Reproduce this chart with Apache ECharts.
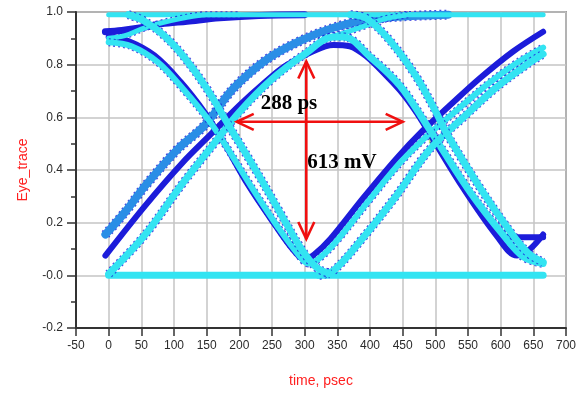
<!DOCTYPE html>
<html>
<head>
<meta charset="utf-8">
<title>Eye diagram</title>
<script src="https://cdn.jsdelivr.net/npm/echarts@6/dist/echarts.min.js"></script>
<style>
  html, body { margin: 0; padding: 0; background: #fff; }
  #eye-chart { width: 580px; height: 393px; }
</style>
</head>
<body>
<div id="eye-chart"></div>
<script>
'use strict';

// axis ticks
var xMin = -50, xMax = 700, xStep = 50;
var yMin = -0.2, yMax = 1.0, yStep = 0.2;

// traces, [time ps, volts]
var flatOne = [[0, 0.99], [665, 0.99]];
var flatZero = [[0, 0.0], [665, 0.0]];
var settleLeftBlue = [[-5, 0.925], [20, 0.93], [50, 0.94], [80, 0.955], [120, 0.965], [170, 0.978], [230, 0.987], [300, 0.99]];
var settleLeftCyan = [[0, 0.90], [25, 0.91], [50, 0.935], [75, 0.955], [110, 0.975], [150, 0.99], [200, 0.99]];
var settleRightCyan = [[330, 0.90], [360, 0.92], [390, 0.945], [420, 0.972], [460, 0.99]];
var fallOuterL = [[30, 0.99], [55, 0.965], [85, 0.91], [115, 0.83], [150, 0.71], [186, 0.56], [225, 0.40], [262, 0.24], [295, 0.10], [318, 0.03], [340, 0.005]];
var fallOuterR = [[370, 0.99], [395, 0.975], [431, 0.89], [472, 0.75], [502, 0.615], [517, 0.54], [569, 0.33], [615, 0.165], [642, 0.085], [665, 0.05]];
var innerDark = [[0, 0.905], [30, 0.89], [70, 0.835], [110, 0.735], [148, 0.615], [175, 0.51], [213, 0.345], [255, 0.19], [283, 0.095], [300, 0.06], [315, 0.08], [340, 0.14], [390, 0.295], [441, 0.445], [481, 0.55], [520, 0.64], [569, 0.75], [619, 0.85], [665, 0.925]];
var innerCyan = [[0, 0.885], [35, 0.87], [75, 0.81], [115, 0.705], [153, 0.59], [180, 0.49], [220, 0.33], [260, 0.18], [290, 0.08], [306, 0.045], [320, 0.06], [347, 0.125], [397, 0.28], [447, 0.43], [492, 0.54], [532, 0.625], [582, 0.73], [627, 0.81], [665, 0.865]];
var riseUpper = [[-5, 0.155], [25, 0.24], [56, 0.34], [106, 0.48], [147, 0.57], [191, 0.71], [242, 0.82], [293, 0.89], [344, 0.94], [385, 0.965], [440, 0.982], [520, 0.99]];
var arcDark = [[-5, 0.075], [56, 0.265], [112, 0.425], [158, 0.54], [200, 0.645], [240, 0.735], [270, 0.795], [308, 0.845], [344, 0.875], [369, 0.87], [395, 0.83], [426, 0.755], [450, 0.69], [472, 0.615], [492, 0.535], [543, 0.33], [594, 0.15], [625, 0.075], [645, 0.1], [665, 0.155]];
var riseLowCyan = [[0, 0.005], [56, 0.155], [112, 0.345], [158, 0.49], [200, 0.62], [250, 0.745], [300, 0.84], [344, 0.905], [360, 0.905], [400, 0.83], [446, 0.72], [487, 0.57], [505, 0.50], [555, 0.31], [605, 0.15], [635, 0.07], [665, 0.045]];
var riseFromZeroR = [[322, 0.0], [345, 0.02], [390, 0.145], [441, 0.305], [492, 0.48], [543, 0.60], [594, 0.715], [640, 0.80], [665, 0.84]];
var flatRightDark = [[592, 0.17], [610, 0.145], [665, 0.145]];

// greenish hit marks
var crossMarks = [[10, 0.9], [74, 0.95], [163, 0.51], [170, 0.57], [281, 0.0], [327, 0.0], [408, 0.95], [494, 0.51], [512, 0.565], [615, 0.0], [665, 0.0]];

// annotations
var arrowH = [196, 0.583, 450, 0.583];
var arrowV = [302.5, 0.812, 302.5, 0.138];
var noteText = ['288 ps', '613 mV'];
var noteX = [276, 357];
var noteY = [0.652, 0.428];

var CYAN = '#33e4f2';
var BLUE = '#2a8ee6';
var DARK = '#1c1cda';

var traces = [
  { data: settleLeftBlue, color: DARK, width: 7 },
  { data: arcDark, color: DARK, width: 6 },
  { data: innerDark, color: DARK, width: 6 },
  { data: flatRightDark, color: DARK, width: 6 },
  { data: riseUpper, color: BLUE, width: 8, speckle: true },
  { data: flatOne, color: CYAN, width: 5 },
  { data: flatZero, color: CYAN, width: 7 },
  { data: settleLeftCyan, color: CYAN, width: 5, speckle: true },
  { data: settleRightCyan, color: CYAN, width: 5, speckle: true },
  { data: innerCyan, color: CYAN, width: 6, speckle: true },
  { data: riseLowCyan, color: CYAN, width: 7, speckle: true },
  { data: riseFromZeroR, color: CYAN, width: 7, speckle: true },
  { data: fallOuterL, color: CYAN, width: 7, speckle: true },
  { data: fallOuterR, color: CYAN, width: 7, speckle: true }
];

function chevron(p, q, len, spread) {
  // open arrow head with its tip on p, pointing away from q
  var dx = q[0] - p[0], dy = q[1] - p[1];
  var d = Math.sqrt(dx * dx + dy * dy);
  var ux = dx / d, uy = dy / d;
  return [
    [p[0] + ux * len - uy * spread, p[1] + uy * len + ux * spread],
    [p[0], p[1]],
    [p[0] + ux * len + uy * spread, p[1] + uy * len - ux * spread]
  ];
}

function renderArrow(params, api) {
  var a = api.coord([api.value(0), api.value(1)]);
  var b = api.coord([api.value(2), api.value(3)]);
  var style = { stroke: '#f01010', lineWidth: 2.6, fill: null };
  return {
    type: 'group',
    children: [
      { type: 'line', shape: { x1: a[0], y1: a[1], x2: b[0], y2: b[1] }, style: style },
      { type: 'polyline', shape: { points: chevron(a, b, 17, 8) }, style: style },
      { type: 'polyline', shape: { points: chevron(b, a, 17, 8) }, style: style }
    ]
  };
}

function renderNote(params, api) {
  var p = api.coord([api.value(0), api.value(1)]);
  return {
    type: 'text',
    x: p[0],
    y: p[1],
    style: {
      text: noteText[params.dataIndex],
      font: 'bold 21px "Liberation Serif", "Times New Roman", serif',
      fill: '#000',
      align: 'center',
      verticalAlign: 'middle',
      textAlign: 'center',
      textVerticalAlign: 'middle'
    }
  };
}

var series = [];
traces.forEach(function (t) {
  // a dashed dark underlay gives the ragged blue edge of the sampled bands
  if (t.speckle) {
    series.push({
      type: 'line',
      data: t.data,
      smooth: 0.35,
      showSymbol: false,
      silent: true,
      lineStyle: { color: DARK, width: t.width + 2, type: [2, 3], cap: 'butt', opacity: 0.8 }
    });
  }
  series.push({
    type: 'line',
    data: t.data,
    smooth: 0.35,
    showSymbol: false,
    silent: true,
    lineStyle: { color: t.color, width: t.width, cap: 'round', join: 'round' }
  });
});

series.push({
  type: 'scatter',
  data: crossMarks,
  symbol: 'rect',
  symbolSize: 5,
  itemStyle: { color: '#a6ec5a' },
  silent: true
});

series.push({
  type: 'custom',
  renderItem: renderArrow,
  data: [arrowH, arrowV],
  z: 10,
  silent: true
});

series.push({
  type: 'custom',
  renderItem: renderNote,
  data: noteX.map(function (x, i) { return [x, noteY[i]]; }),
  z: 11,
  silent: true
});

var axisFont = { color: '#2b2b2b', fontSize: 12, fontFamily: 'Liberation Sans, Arial, sans-serif' };

var option = {
  animation: false,
  backgroundColor: '#fff',
  grid: {
    left: 76, right: 14, top: 12, bottom: 61,
    show: true, borderColor: '#555', borderWidth: 1.5
  },
  xAxis: {
    type: 'value',
    min: xMin, max: xMax, interval: xStep,
    name: 'time, psec',
    nameLocation: 'middle',
    nameGap: 46,
    nameTextStyle: { color: '#ff2020', fontSize: 14, fontFamily: 'Liberation Sans, Arial, sans-serif' },
    axisLine: { onZero: false, lineStyle: { color: '#333', width: 2 } },
    axisTick: { length: 8, lineStyle: { color: '#333', width: 1.5 } },
    axisLabel: Object.assign({ margin: 12 }, axisFont),
    splitLine: { lineStyle: { color: '#c4c4c4', width: 1.5 } }
  },
  yAxis: {
    type: 'value',
    min: yMin, max: yMax, interval: yStep,
    name: 'Eye_trace',
    nameLocation: 'middle',
    nameGap: 46,
    nameTextStyle: { color: '#ff2020', fontSize: 14, fontFamily: 'Liberation Sans, Arial, sans-serif' },
    axisLine: { onZero: false, lineStyle: { color: '#333', width: 2 } },
    axisTick: { length: 9, lineStyle: { color: '#333', width: 1.5 } },
    minorTick: { show: true, splitNumber: 2, length: 5, lineStyle: { color: '#333', width: 1.5 } },
    axisLabel: Object.assign({
      margin: 13,
      formatter: function (v) {
        return Math.abs(v) < 1e-9 ? '-0.0' : v.toFixed(1);
      }
    }, axisFont),
    splitLine: { lineStyle: { color: '#c4c4c4', width: 1.5 } }
  },
  series: series
};

var eyeChart = echarts.init(document.getElementById('eye-chart'));
eyeChart.setOption(option);
</script>
</body>
</html>
